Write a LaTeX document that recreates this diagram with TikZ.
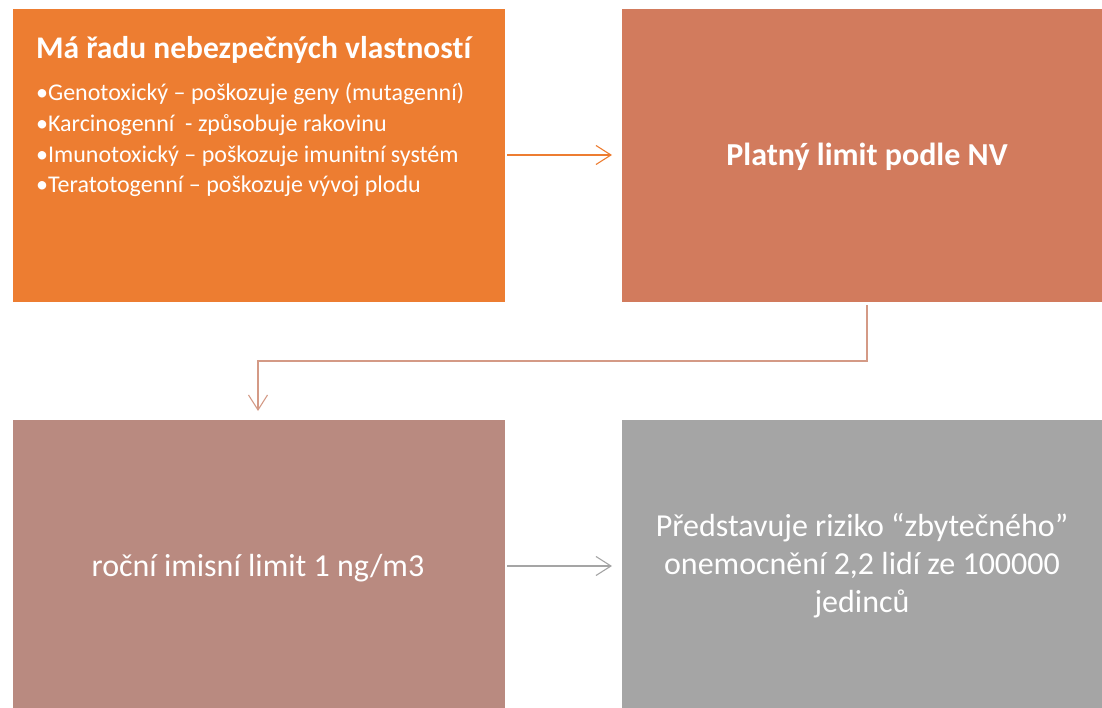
\documentclass[tikz,border=0pt]{standalone}
\usepackage{fontspec}
\setmainfont[Ligatures={NoCommon}]{Carlito}
\usetikzlibrary{arrows.meta}
\definecolor{cOrange}{HTML}{ED7D31}
\definecolor{cRust}{HTML}{D27B5D}
\definecolor{cRose}{HTML}{B98A80}
\definecolor{cGray}{HTML}{A5A5A5}
\definecolor{cLink}{HTML}{D49A86}
\tikzset{
  x=1pt, y=-1pt,
  boxstyle/.style={draw=white, line width=0.6pt, inner sep=0pt, anchor=north west},
  conn/.style={line width=1.1pt, -{Straight Barb[length=15pt, width=19pt, line width=1.1pt]}},
  bigtxt/.style={text=white, font=\fontsize{32}{38}\selectfont, align=center, anchor=center},
  bultxt/.style={text=white, font=\fontsize{24}{30.5}\selectfont, anchor=base west, inner sep=0pt},
}
\begin{document}
\begin{tikzpicture}
\useasboundingbox (0,0) rectangle (1102,708);
\node[boxstyle, fill=cOrange, minimum width=493pt, minimum height=294pt] (b1) at (12,8) {};
\node[boxstyle, fill=cRust, minimum width=482pt, minimum height=294pt] (b2) at (621,8) {};
\node[boxstyle, fill=cRose, minimum width=493pt, minimum height=290pt] (b3) at (12,419) {};
\node[boxstyle, fill=cGray, minimum width=482pt, minimum height=290pt] (b4) at (621,419) {};

\node[bultxt, font=\bfseries\fontsize{31.5}{30}\selectfont] (t1) at (36,59) {Má řadu nebezpečných vlastností};
\node[bultxt] (l1) at (36,101) {•Genotoxický – poškozuje geny (mutagenní)};
\node[bultxt] (l2) at (36,131.5) {•Karcinogenní\ \ - způsobuje rakovinu};
\node[bultxt] (l3) at (36,162.5) {•Imunotoxický – poškozuje imunitní systém};
\node[bultxt] (l4) at (36,192.5) {•Teratotogenní – poškozuje vývoj plodu};

\node[bigtxt, font=\bfseries\fontsize{32}{38}\selectfont] (t2) at (867,157) {Platný limit podle NV};
\node[bigtxt] (t3) at (258,568) {roční imisní limit 1 ng/m3};
\node[bigtxt] (t4) at (862,566) {Představuje riziko “zbytečného”\\onemocnění 2,2 lidí ze 100000\\jedinců};

\coordinate (e1) at (867,305);
\coordinate (e2) at (867,361);
\coordinate (e3) at (258,361);
\coordinate (e4) at (258,411);
\draw[conn, draw=cOrange] (507,155) -- (612,155);
\draw[conn, draw=cLink] (e1) -- (e2) -- (e3) -- (e4);
\draw[conn, draw=cGray] (507,566) -- (612,566);
\end{tikzpicture}
\end{document}
